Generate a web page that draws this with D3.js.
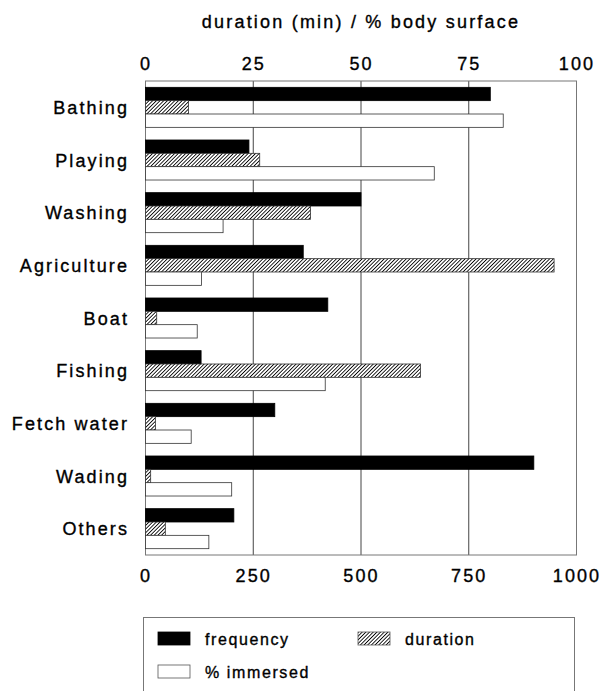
<!DOCTYPE html>
<html>
<head>
<meta charset="utf-8">
<script src="https://cdn.jsdelivr.net/npm/d3@7"></script>
<style>
  html, body { margin: 0; padding: 0; background: #fff; }
  text { font-family: "Liberation Sans", Arial, sans-serif; fill: #000; stroke: #000; stroke-width: 0.35px; }
</style>
</head>
<body>
<script>
// activities, top to bottom
var categories = ['Bathing', 'Playing', 'Washing', 'Agriculture', 'Boat',
                  'Fishing', 'Fetch water', 'Wading', 'Others'];
// frequency (bottom axis, 0-1000)
var frequency = [800, 240, 500, 366, 423, 129, 300, 901, 205];
// duration in minutes (top axis, 0-100)
var duration  = [10, 26.5, 38.3, 94.8, 2.6, 63.8, 2.3, 1.2, 4.6];
// % body surface immersed (top axis, 0-100)
var immersed  = [83, 67, 18, 13, 12, 41.7, 10.6, 20, 14.7];

var pctTicks  = [0, 25, 50, 75, 100];
var freqTicks = [0, 250, 500, 750, 1000];
var seriesKeys   = ['frequency', 'duration', 'immersed'];
var legendLabels = ['frequency', 'duration', '% immersed'];

var width = 602, height = 691;
// note: `top` is taken by window.top, so plot edges get their own names
var plotLeft = 145.5, plotRight = 576.5, plotTop = 81, plotBottom = 555;

var svg = d3.select('body').append('svg')
  .attr('width', width)
  .attr('height', height);

// hatch for the duration bars
var defs = svg.append('defs');
var pat = defs.append('pattern')
  .attr('id', 'hatch')
  .attr('patternUnits', 'userSpaceOnUse')
  .attr('width', 2.6).attr('height', 2.6)
  .attr('patternTransform', 'rotate(45)');
pat.append('rect').attr('width', 2.6).attr('height', 2.6).attr('fill', '#fff');
pat.append('line')
  .attr('x1', 0).attr('y1', 0).attr('x2', 0).attr('y2', 2.6)
  .attr('stroke', '#000').attr('stroke-width', 1.7);

var xPct  = d3.scaleLinear().domain([0, 100]).range([plotLeft, plotRight]);
var xFreq = d3.scaleLinear().domain([0, 1000]).range([plotLeft, plotRight]);

var y = d3.scaleBand()
  .domain(categories)
  .range([plotTop, plotBottom])
  .paddingInner(0.24)
  .paddingOuter(0.12);

var ySub = d3.scaleBand()
  .domain(seriesKeys)
  .range([0, y.bandwidth()]);

var fills = { frequency: '#000', duration: 'url(#hatch)', immersed: '#fff' };
var scaleFor = { frequency: xFreq, duration: xPct, immersed: xPct };

var rows = categories.map(function(c, i){
  return { name: c, frequency: frequency[i], duration: duration[i], immersed: immersed[i] };
});

// gridlines
svg.append('g').selectAll('line')
  .data(pctTicks.slice(1, -1))
  .join('line')
  .attr('x1', function(d){ return xPct(d); })
  .attr('x2', function(d){ return xPct(d); })
  .attr('y1', plotTop).attr('y2', plotBottom)
  .attr('stroke', '#444').attr('stroke-width', 1);

// frame
svg.append('rect')
  .attr('x', plotLeft).attr('y', plotTop)
  .attr('width', plotRight - plotLeft).attr('height', plotBottom - plotTop)
  .attr('fill', 'none').attr('stroke', '#777').attr('stroke-width', 1);

// bars
var groups = svg.append('g').selectAll('g')
  .data(rows)
  .join('g')
  .attr('transform', function(d){ return 'translate(0,' + y(d.name) + ')'; });

groups.selectAll('rect')
  .data(function(d){ return seriesKeys.map(function(k){ return { key: k, value: d[k] }; }); })
  .join('rect')
  .attr('x', plotLeft)
  .attr('y', function(d){ return ySub(d.key); })
  .attr('width', function(d){ return scaleFor[d.key](d.value) - plotLeft; })
  .attr('height', ySub.bandwidth())
  .attr('fill', function(d){ return fills[d.key]; })
  .attr('stroke', function(d){ return d.key === 'frequency' ? '#000' : '#333'; })
  .attr('stroke-width', 0.8);

// category labels
svg.append('g').selectAll('text')
  .data(categories)
  .join('text')
  .attr('x', 129)
  .attr('y', function(d){ return y(d) + y.bandwidth() / 2 + 6.5; })
  .attr('text-anchor', 'end')
  .style('font-size', '18px')
  .style('letter-spacing', '2.1px')
  .text(function(d){ return d; });

// axes
var styleAxis = function(g){
  g.select('.domain').remove();
  g.selectAll('text')
    .style('font-family', '"Liberation Sans", Arial, sans-serif')
    .style('font-size', '18px')
    .style('letter-spacing', '2.1px')
    .attr('fill', '#000');
};

svg.append('g')
  .attr('transform', 'translate(0,' + plotTop + ')')
  .call(d3.axisTop(xPct).tickValues(pctTicks).tickSize(0).tickPadding(11).tickFormat(d3.format('d')))
  .call(styleAxis);

svg.append('g')
  .attr('transform', 'translate(0,' + plotBottom + ')')
  .call(d3.axisBottom(xFreq).tickValues(freqTicks).tickSize(0).tickPadding(14).tickFormat(d3.format('d')))
  .call(styleAxis);

// title
svg.append('text')
  .attr('x', (plotLeft + plotRight) / 2)
  .attr('y', 28)
  .attr('text-anchor', 'middle')
  .style('font-size', '18px')
  .style('letter-spacing', '2.2px')
  .text('duration (min) / % body surface');

// legend
var legend = svg.append('g');
legend.append('rect')
  .attr('x', 143.5).attr('y', 617.5)
  .attr('width', 431).attr('height', 100)
  .attr('fill', 'none').attr('stroke', '#777').attr('stroke-width', 1);

var legendPos = [
  { x: 158, y: 632 },
  { x: 358, y: 632 },
  { x: 158, y: 665 }
];

var items = legend.selectAll('g.item')
  .data(seriesKeys)
  .join('g')
  .attr('class', 'item')
  .attr('transform', function(d, i){ return 'translate(' + legendPos[i].x + ',' + legendPos[i].y + ')'; });

items.append('rect')
  .attr('width', 32).attr('height', 13)
  .attr('fill', function(d){ return fills[d]; })
  .attr('stroke', function(d){ return d === 'frequency' ? '#000' : '#555'; })
  .attr('stroke-width', 0.8);

items.append('text')
  .attr('x', 47)
  .attr('y', 13)
  .style('font-size', '16px')
  .style('letter-spacing', '1.6px')
  .text(function(d, i){ return legendLabels[i]; });
</script>
</body>
</html>
